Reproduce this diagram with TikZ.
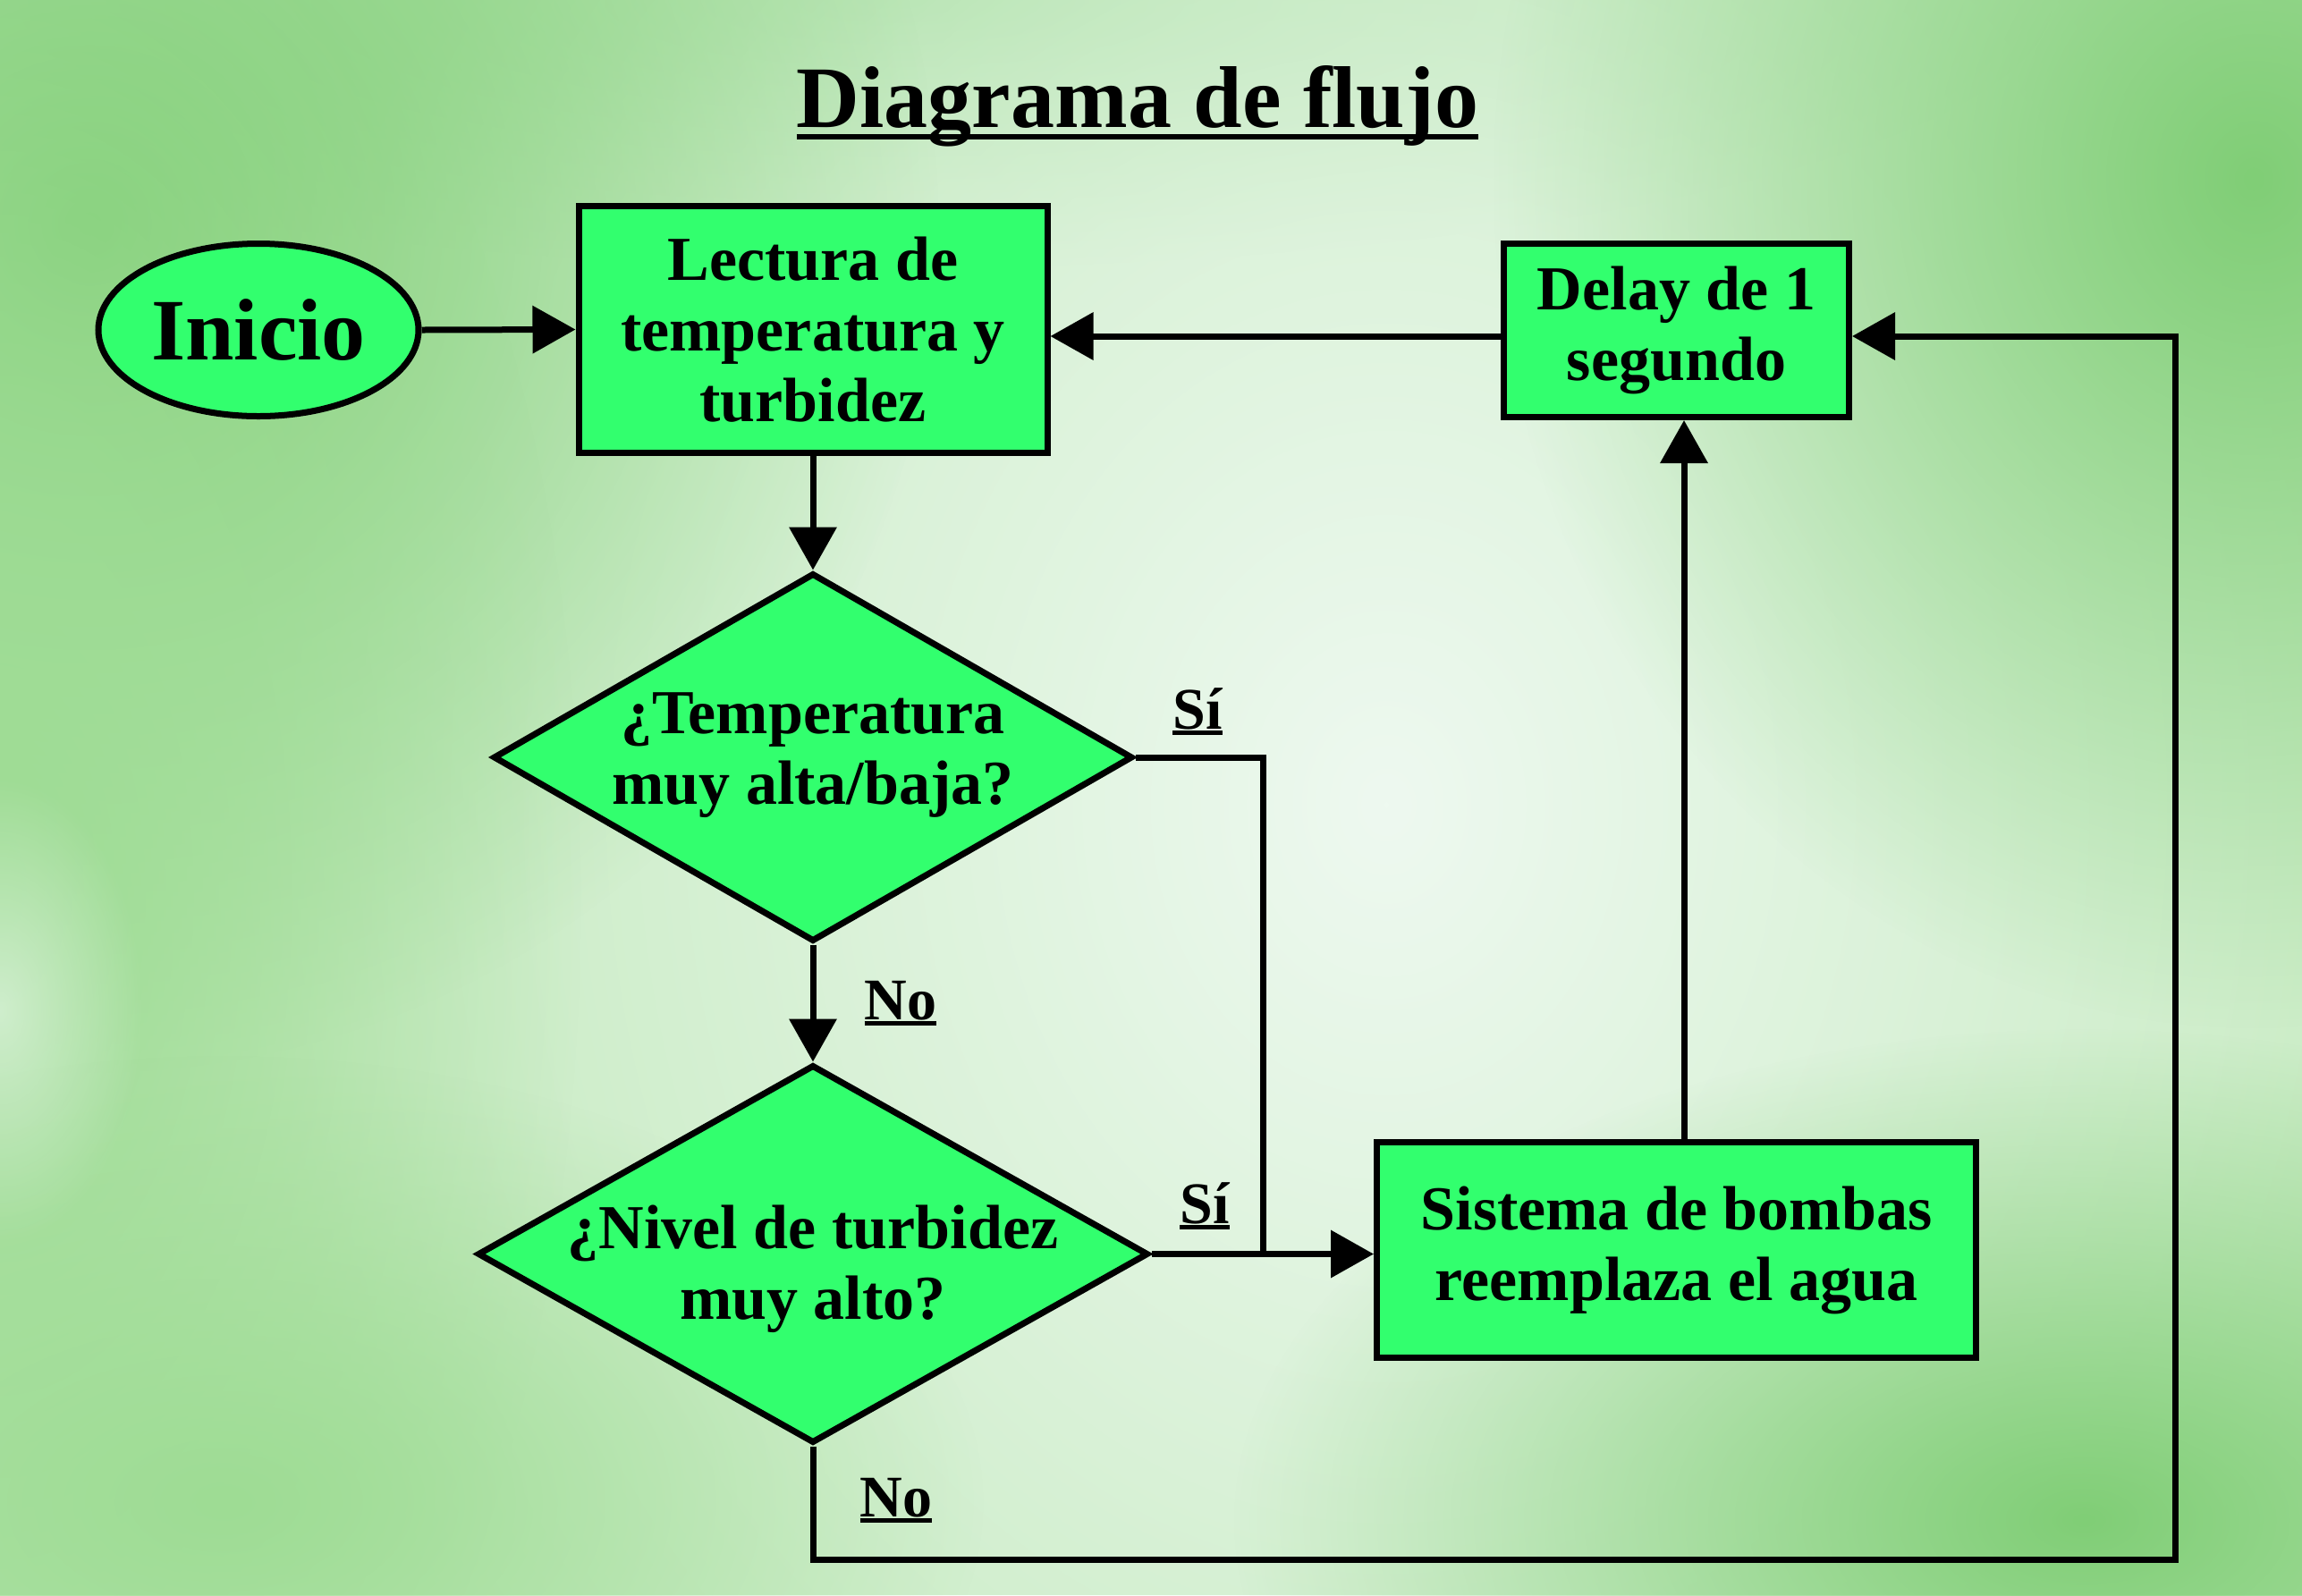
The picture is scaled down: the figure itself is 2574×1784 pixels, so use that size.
\documentclass[tikz,border=0pt]{standalone}
\usepackage{fontspec}
\setmainfont{Liberation Serif}
\usetikzlibrary{shapes.geometric,arrows.meta,fadings}
\definecolor{boxgreen}{RGB}{50,255,110}
\definecolor{bgbase}{RGB}{196,234,190}
\definecolor{bglight}{RGB}{238,249,240}
\definecolor{bgdark}{RGB}{128,206,118}
\definecolor{bgmid}{RGB}{158,220,148}
\definecolor{bgtop}{RGB}{165,222,158}
\tikzfading[name=softblob, inner color=transparent!0, outer color=transparent!100]
\newcommand{\ulx}[3]{\setbox0=\hbox{#1}\rlap{\rule[#2]{\wd0}{#3}}\box0}
\newcommand{\boxfont}{\fontsize{35}{39.5}\selectfont\bfseries}
\newcommand{\labfont}{\fontsize{33}{36}\selectfont\bfseries}
\begin{document}
\begin{tikzpicture}[x=0.5pt,y=-0.5pt,
  proc/.style={draw=black, line width=3.5pt, fill=boxgreen, rectangle, inner sep=0pt, align=center, font=\boxfont},
  dec/.style={draw=black, line width=3.5pt, fill=boxgreen, diamond, inner sep=0pt},
  dectext/.style={align=center, font=\boxfont, inner sep=0pt},
  conn/.style={line width=3.5pt, line join=miter},
  arr/.style={conn, -{Triangle[length=24pt,width=26pt]}},
  lab/.style={font=\labfont, anchor=base, inner sep=0pt},
  blob/.style={path fading=softblob}]
\useasboundingbox (0,0) rectangle (2574,1784);
% background
\begin{scope}
\clip (0,0) rectangle (2574,1784);
\fill[bgbase] (0,0) rectangle (2574,1784);
\fill[bgtop, blob] (1000,0) ellipse [x radius=1300, y radius=300];
\fill[bglight, blob] (1550,900) ellipse [x radius=1300, y radius=1600];
\fill[bgdark, blob] (100,250) ellipse [x radius=950, y radius=950];
\fill[bgdark, blob] (2520,200) ellipse [x radius=850, y radius=950];
\fill[bgmid, blob] (0,1000) ellipse [x radius=650, y radius=1300];
\fill[bgmid, blob] (250,1680) ellipse [x radius=850, y radius=500];
\fill[bgdark, blob] (2330,1700) ellipse [x radius=950, y radius=550];
\fill[bglight, blob, fill opacity=0.6] (0,1130) ellipse [x radius=160, y radius=260];
\end{scope}
% title
\node[font=\fontsize{49}{55}\selectfont\bfseries, anchor=base, inner sep=0pt] (title) at (1272,142)
  {\ulx{Diagrama de flujo}{-0.14em}{0.06em}};
% nodes
\node[draw=black, line width=3.5pt, fill=boxgreen, ellipse, inner sep=0pt,
  minimum width=179pt, minimum height=96.5pt, font=\fontsize{49}{55}\selectfont\bfseries] (ini) at (289,369) {Inicio};
\node[proc, minimum width=262pt, minimum height=138pt] (lec) at (909,368.5) {Lectura de\\temperatura y\\turbidez};
\node[proc, minimum width=193pt, minimum height=97pt] (del) at (1874.5,369.5) {Delay de 1\\segundo};
\node[proc, minimum width=335pt, minimum height=120.5pt] (sis) at (1874.5,1398) {Sistema de bombas\\reemplaza el agua};
\node[dec, minimum width=357.5pt, minimum height=206pt] (d1) at (909,847) {};
\node[dectext] (d1t) at (909,845) {¿Temperatura\\muy alta/baja?};
\node[dec, minimum width=375pt, minimum height=211.5pt] (d2) at (909,1402.5) {};
\node[dectext] (d2t) at (909,1419) {¿Nivel de turbidez\\muy alto?};
% labels
\node[lab] (si1) at (1339,815) {\ulx{Sí}{-0.1em}{0.065em}};
\node[lab] (si2) at (1347,1368) {\ulx{Sí}{-0.1em}{0.065em}};
\node[lab] (no1) at (1007,1140) {\ulx{No}{-0.1em}{0.065em}};
\node[lab] (no2) at (1002,1696) {\ulx{No}{-0.1em}{0.065em}};
% helper coordinates
\coordinate (yl) at (0,376);
\coordinate (jn) at (1412,1402.5);
\coordinate (rb) at (2432,1744);
\coordinate (ux) at (1883,0);
% connectors
\draw[arr] (ini.east) -- (lec.west);
\draw[arr] (lec.south) -- (d1.north);
\draw[arr] (d1.south) -- (d2.north);
\draw[arr] (del.west |- yl) -- (lec.east |- yl);
\draw[conn] (d1.east) -| (jn);
\draw[arr] (d2.east) -- (sis.west |- d2.east);
\draw[arr] (sis.north -| ux) -- (del.south -| ux);
\draw[arr] (d2.south) |- (rb) |- (del.east |- yl);
\end{tikzpicture}
\end{document}
